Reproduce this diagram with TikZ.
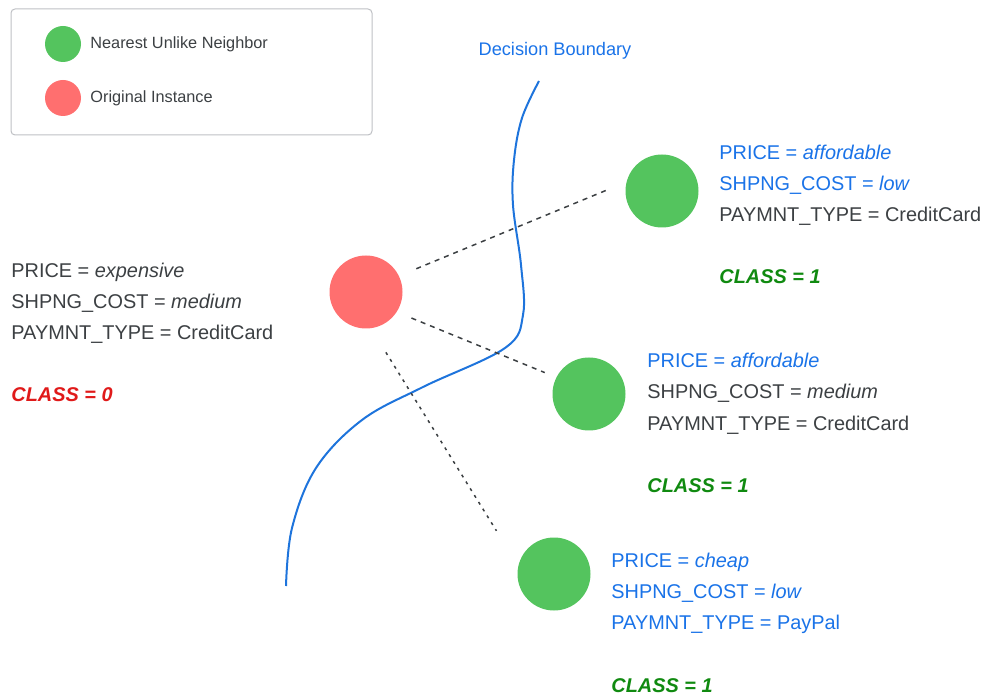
\documentclass[tikz,border=0pt]{standalone}
\usepackage{fontspec}
\setmainfont{Liberation Sans}
\usepackage{tikz}
\definecolor{nungreen}{RGB}{84,196,94}
\definecolor{origred}{RGB}{255,111,111}
\definecolor{txtdark}{RGB}{60,64,67}
\definecolor{txtblue}{RGB}{26,115,232}
\definecolor{clsgreen}{RGB}{16,138,16}
\definecolor{clsred}{RGB}{224,26,26}
\definecolor{bndblue}{RGB}{30,116,220}
\definecolor{boxgray}{RGB}{190,192,196}
\tikzset{
    dot/.style={circle, draw=none, minimum size=36.5pt, inner sep=0pt},
    legdot/.style={circle, draw=none, minimum size=18pt, inner sep=0pt}
}
\tikzset{
    feat/.style={anchor=base west, inner sep=0pt, text=txtdark,
    	font=\fontsize{9.95}{12}\selectfont},
    featb/.style={feat, text=txtblue},
    cls/.style={feat, font=\fontsize{9.95}{12}\selectfont\bfseries\itshape},
    legtxt/.style={anchor=base west, inner sep=0pt, text=txtdark,
    	font=\fontsize{8.15}{10}\selectfont}
}
\tikzset{
    link/.style={draw=txtdark, line width=.75pt, dash pattern=on 2.5pt off 2.5pt},
    linkdot/.style={link, dash pattern=on 1.5pt off 2.5pt}
}

\begin{document}
\begin{tikzpicture}[x=0.5pt, y=-0.5pt]
	\useasboundingbox (0,0) rectangle (984,694);
	% legend
	\draw[boxgray, line width=.5pt, rounded corners=2pt] (11,9) rectangle (372,135);
	\node [legdot, fill=nungreen] (lnun) at (63,44) {};
	\node [legdot, fill=origred] (lorig) at (63,98) {};
	\node [legtxt] (lnuntxt) at (90,49) {Nearest Unlike Neighbor};
	\node [legtxt] (lorigtxt) at (90,103) {Original Instance};
	% decision boundary
	\node [inner sep=0pt, text=txtblue, font=\fontsize{9.1}{11}\selectfont] (bndtxt) at (555,51) {Decision Boundary};
	\draw[bndblue, line width=1pt] plot[smooth, tension=0.6] coordinates {(539,81) (522,118) (514,160)
		(513,205) (521,265) (523,315) (505,348) (423,387) (362,420) (316,468) (292,528) (286,586)};
	% instances
	\node [dot, fill=origred] (orig) at (366,292) {};
	\node [dot, fill=nungreen] (near1) at (662,191) {};
	\node [dot, fill=nungreen] (near2) at (589,394) {};
	\node [dot, fill=nungreen] (near3) at (554,574) {};
	\draw[link, shorten <=9.25pt, shorten >=9pt] (orig.26) -- (near1.166);
	\draw[link, shorten <=7.85pt, shorten >=6.15pt] (orig.-33) -- (near2.153);
	\draw[linkdot, shorten <=14pt, shorten >=20.5pt] (orig.-82) -- (near3.167);
	% original instance
	\node [feat] (op) at (11,278) {PRICE = \textit{expensive}};
	\node [feat] (os) at (11,309) {SHPNG\_COST = \textit{medium}};
	\node [feat] (ot) at (11,340) {PAYMNT\_TYPE = CreditCard};
	\node [cls, text=clsred] (oc) at (11,402) {CLASS = 0};
	% first neighbor
	\node [featb] (ap) at (719,160) {PRICE = \textit{affordable}};
	\node [featb] (as) at (719,191) {SHPNG\_COST = \textit{low}};
	\node [feat] (at) at (719,222) {PAYMNT\_TYPE = CreditCard};
	\node [cls, text=clsgreen] (ac) at (719,284) {CLASS = 1};
	% second neighbor
	\node [featb] (bp) at (647,368) {PRICE = \textit{affordable}};
	\node [feat] (bs) at (647,399) {SHPNG\_COST = \textit{medium}};
	\node [feat] (bt) at (647,430) {PAYMNT\_TYPE = CreditCard};
	\node [cls, text=clsgreen] (bc) at (647,493) {CLASS = 1};
	% third neighbor
	\node [featb] (cp) at (611,567) {PRICE = \textit{cheap}};
	\node [featb] (cs) at (611,598) {SHPNG\_COST = \textit{low}};
	\node [featb] (ct) at (611,629) {PAYMNT\_TYPE = PayPal};
	\node [cls, text=clsgreen] (cc) at (611,692) {CLASS = 1};
\end{tikzpicture}
\end{document}
